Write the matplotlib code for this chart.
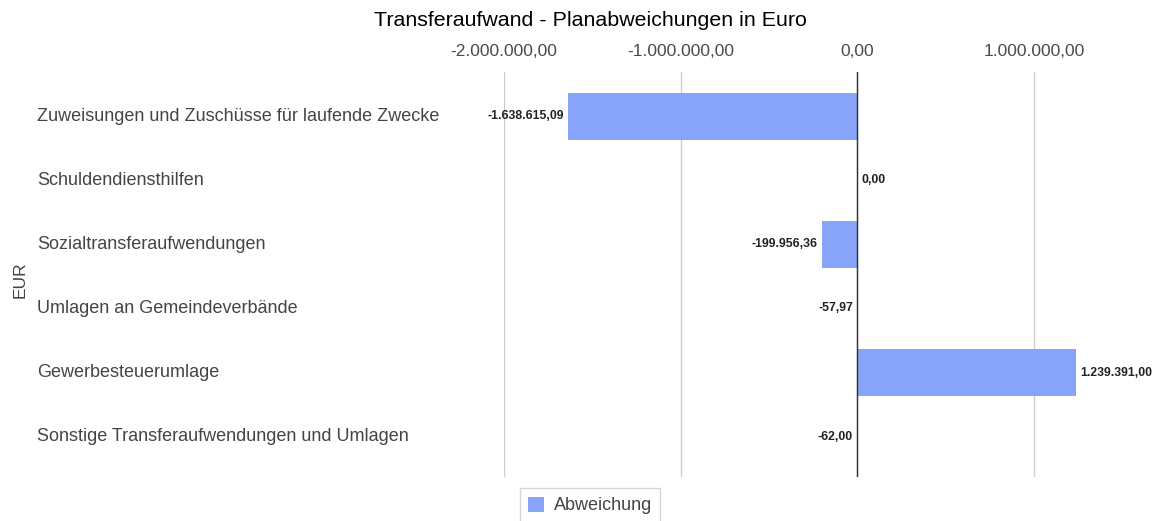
import matplotlib
matplotlib.use("Agg")
import matplotlib.pyplot as plt
from matplotlib.transforms import blended_transform_factory

categories = [
    "Zuweisungen und Zuschüsse für laufende Zwecke",
    "Schuldendiensthilfen",
    "Sozialtransferaufwendungen",
    "Umlagen an Gemeindeverbände",
    "Gewerbesteuerumlage",
    "Sonstige Transferaufwendungen und Umlagen",
]
values = [-1638615.09, 0.00, -199956.36, -57.97, 1239391.00, -62.00]
xticks = [-2000000, -1000000, 0, 1000000]

def fmt(v):
    s = f"{v:,.2f}"
    return s.replace(",", "X").replace(".", ",").replace("X", ".")

plt.rcParams['font.family'] = ['Liberation Sans', 'DejaVu Sans']
fig = plt.figure(figsize=(11.56, 5.21), dpi=100)
ax = fig.add_axes([0.436, 0.0845, 0.55, 0.7775])

bar_color = "#88a4f9"
ypos = list(range(len(categories)))
bars = ax.barh(ypos, values, height=0.73, color=bar_color, label="Abweichung", zorder=2)
ax.set_ylim(len(categories) - 0.5 + 0.13, -0.5 - 0.19)
ax.set_xlim(-2000000, 1600000)

ax.set_xticks(xticks)
ax.set_xticklabels([fmt(t) for t in xticks], fontsize=12.5, color="#4a4a4a")
ax.xaxis.tick_top()
ax.tick_params(axis="x", length=0, pad=9)
ax.tick_params(axis="y", length=0)
ax.set_yticks([])
ax.grid(axis="x", color="#cccccc", linewidth=1, zorder=0)
ax.axvline(0, color="#333333", linewidth=1, zorder=3)
for s in ax.spines.values():
    s.set_visible(False)

trans = blended_transform_factory(fig.transFigure, ax.transData)
for y, c in zip(ypos, categories):
    ax.text(37 / 1156, y, c, transform=trans, ha="left", va="center",
            fontsize=13, color="#444444")

for y, v in zip(ypos, values):
    if v < 0:
        ax.annotate(fmt(v), (v, y), xytext=(-3, 0), textcoords="offset points",
                    ha="right", va="center", fontsize=8.8, fontweight="bold", color="#222222")
    else:
        ax.annotate(fmt(v), (v, y), xytext=(3, 0), textcoords="offset points",
                    ha="left", va="center", fontsize=8.8, fontweight="bold", color="#222222")

fig.text(20 / 1156, 1 - 280 / 521, "EUR", rotation=90, ha="center", va="center",
         fontsize=12.5, color="#444444")
fig.text(590 / 1156, 1 - 20 / 521, "Transferaufwand - Planabweichungen in Euro",
         ha="center", va="center", fontsize=15.4, color="#000000")

leg = fig.legend(handles=[bars], labels=["Abweichung"], loc="lower center",
                 bbox_to_anchor=(590 / 1156, -0.02), frameon=True, fontsize=13,
                 handlelength=0.9, handleheight=0.9, fancybox=False, borderpad=0.45,
                 handletextpad=0.5)
leg.get_frame().set_edgecolor("#cccccc")
for t in leg.get_texts():
    t.set_color("#444444")

fig.savefig("out.png", dpi=100)
